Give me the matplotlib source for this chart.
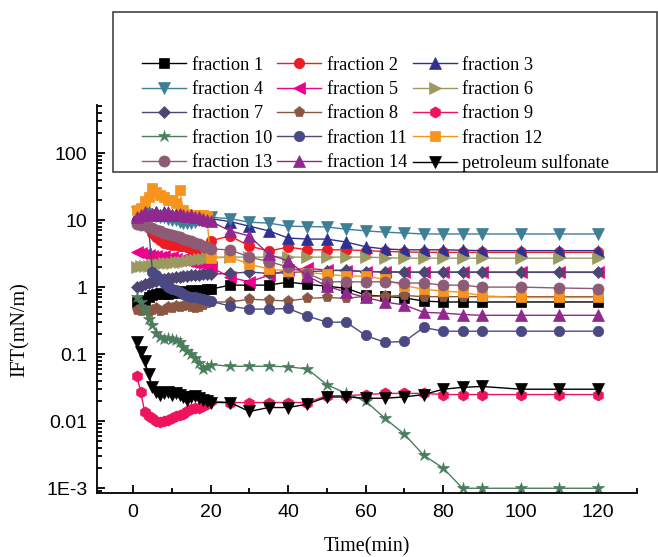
import matplotlib
matplotlib.use("Agg")
import matplotlib.pyplot as plt
from matplotlib.patches import Rectangle
from matplotlib.ticker import FixedLocator, LogLocator, FuncFormatter, MultipleLocator, NullFormatter

# time points (min): dense sampling for the first 20 min, then every 5-10 min
t_early = list(range(1, 21))
t_late = [25, 30, 35, 40, 45, 50, 55, 60, 65, 70, 75, 80, 85, 90, 100, 110, 120]
time = t_early + t_late
time_f11 = list(range(4, 21)) + t_late

# IFT values (mN/m)
f1 = [0.6, 0.62, 0.65, 0.7, 0.75, 0.8, 0.82, 0.78, 0.8, 0.85, 0.83, 0.85, 0.88, 0.86, 0.9, 0.88, 0.92, 0.9, 0.93, 0.93,
      1.07, 1.07, 1.07, 1.19, 1.1, 1.03, 0.96, 0.76, 0.73, 0.69, 0.62, 0.6, 0.6, 0.6, 0.6, 0.6, 0.6]
f2 = [10, 9.5, 8.5, 7.5, 6.5, 5.5, 5, 4.6, 4.4, 4.3, 4.2, 4.1, 4.1, 4.0, 3.7, 3.45, 3.3, 3.1, 4.0, 4.9,
      5.8, 4.1, 3.45, 3.95, 3.6, 3.6, 3.6, 3.5, 3.4, 3.35, 3.3, 3.3, 3.3, 3.3, 3.3, 3.3, 3.3]
f3 = [12, 13, 14, 13, 12.5, 13, 12, 13, 12.5, 12, 12.5, 13, 12, 11.5, 12, 11.5, 11, 11, 10.5, 10.5,
      9.5, 8.1, 6.9, 5.4, 5.2, 5.2, 4.7, 4.0, 3.7, 3.6, 3.6, 3.6, 3.55, 3.5, 3.5, 3.5, 3.5]
f4 = [13, 13, 12.5, 12, 12, 11.5, 11, 11, 10.5, 10, 10, 9.5, 9, 9, 9, 9.5, 10, 10, 10.5, 11,
      10.5, 9.3, 9.0, 8.1, 8.0, 7.9, 7.3, 6.9, 6.6, 6.4, 6.2, 6.2, 6.2, 6.2, 6.2, 6.2, 6.2]
f5 = [3.3, 3.2, 3.1, 3.0, 2.9, 2.9, 2.8, 2.9, 2.7, 2.8, 2.6, 2.5, 2.6, 2.45, 2.4, 2.3, 2.25, 2.2, 2.1, 2.0,
      1.4, 1.2, 1.5, 1.8, 1.9, 1.8, 1.75, 1.7, 1.7, 1.68, 1.68, 1.68, 1.68, 1.68, 1.68, 1.68, 1.68]
f6 = [2.0, 2.05, 2.1, 2.1, 2.15, 2.2, 2.2, 2.25, 2.3, 2.3, 2.35, 2.4, 2.4, 2.45, 2.5, 2.55, 2.6, 2.65, 2.7, 2.8,
      2.8, 2.8, 2.8, 2.8, 2.8, 2.8, 2.8, 2.8, 2.75, 2.7, 2.7, 2.7, 2.7, 2.7, 2.7, 2.7, 2.7]
f7 = [1.0, 1.05, 1.1, 1.15, 1.2, 1.25, 1.3, 1.3, 1.35, 1.35, 1.4, 1.4, 1.45, 1.45, 1.5, 1.5, 1.5, 1.55, 1.55, 1.56,
      1.6, 1.68, 1.6, 1.65, 1.7, 1.75, 1.8, 1.7, 1.68, 1.66, 1.66, 1.66, 1.66, 1.66, 1.66, 1.66, 1.66]
f8 = [0.45, 0.44, 0.46, 0.42, 0.45, 0.48, 0.44, 0.46, 0.5, 0.48, 0.52, 0.5, 0.52, 0.55, 0.5, 0.48, 0.5, 0.55, 0.58, 0.6,
      0.6, 0.66, 0.64, 0.62, 0.68, 0.7, 0.68, 0.73, 0.73, 0.75, 0.72, 0.72, 0.72, 0.72, 0.72, 0.72, 0.72]
f9 = [0.047, 0.027, 0.0137, 0.012, 0.011, 0.0101, 0.0098, 0.0101, 0.0105, 0.011, 0.012, 0.0125, 0.013, 0.014,
      0.015, 0.016, 0.016, 0.017, 0.018, 0.02,
      0.019, 0.019, 0.019, 0.019, 0.019, 0.024, 0.024, 0.025, 0.026, 0.026, 0.026, 0.025, 0.025, 0.025, 0.025,
      0.025, 0.025]
f10 = [0.71, 0.6, 0.45, 0.33, 0.27, 0.21, 0.18, 0.17, 0.175, 0.17, 0.16, 0.15, 0.13, 0.11, 0.1, 0.087, 0.075,
       0.06, 0.065, 0.07,
       0.066, 0.066, 0.066, 0.065, 0.06, 0.035, 0.026, 0.02, 0.011, 0.0064, 0.0031, 0.002, 0.001, 0.001, 0.001,
       0.001, 0.001]
f11 = [8, 1.7, 1.5, 1.3, 1.15, 1.0, 0.95, 0.9, 0.84, 0.78, 0.73, 0.72, 0.7, 0.68, 0.66, 0.64, 0.62,
       0.52, 0.47, 0.47, 0.48, 0.37, 0.3, 0.3, 0.19, 0.15, 0.155, 0.25, 0.22, 0.22, 0.22, 0.22, 0.22, 0.22]
f12 = [14, 15, 19, 22, 30, 26, 24, 22, 20, 20, 18, 28, 14, 12.5, 12, 12, 12, 12, 11.5, 2.7,
       2.8, 2.2, 1.86, 1.75, 1.65, 1.56, 1.46, 1.46, 1.3, 1.05, 0.93, 0.87, 0.84, 0.74, 0.7, 0.7, 0.7]
f13 = [8.7, 8.5, 8.3, 8, 7.6, 7.2, 6.8, 6.5, 6.3, 6, 5.8, 5.5, 5.3, 5.1, 4.9, 4.6, 4.4, 4.1, 3.9, 3.7,
       3.6, 2.8, 2.4, 2.0, 1.6, 1.2, 1.2, 1.2, 1.2, 1.15, 1.15, 1.07, 1.07, 1.0, 1.0, 0.97, 0.95]
f14 = [11, 12, 13, 12, 12.5, 13, 12, 12.5, 13, 12, 12, 12.5, 12, 11.5, 12, 11, 11, 10.5, 10, 9.6,
       6.9, 5.8, 3.1, 2.45, 1.46, 1.03, 0.84, 0.7, 0.6, 0.54, 0.42, 0.41, 0.39, 0.38, 0.38, 0.38, 0.38]
ps = [0.15, 0.107, 0.079, 0.05, 0.032, 0.027, 0.025, 0.026, 0.027, 0.025, 0.026, 0.025, 0.023, 0.021, 0.023,
      0.024, 0.022, 0.021, 0.02, 0.019,
      0.019, 0.014, 0.016, 0.016, 0.018, 0.023, 0.023, 0.022, 0.022, 0.023, 0.025, 0.03, 0.032, 0.033, 0.03,
      0.03, 0.03]

series = [
    ("fraction 1", time, f1, "s", "#000000", 6.5),
    ("fraction 2", time, f2, "o", "#ed1c24", 7.5),
    ("fraction 3", time, f3, "^", "#2e3192", 8),
    ("fraction 4", time, f4, "v", "#3f7f95", 8),
    ("fraction 5", time, f5, "<", "#ec008c", 8),
    ("fraction 6", time, f6, ">", "#9a9a60", 8),
    ("fraction 7", time, f7, "D", "#4d4673", 6.5),
    ("fraction 8", time, f8, "p", "#8b5742", 8),
    ("fraction 9", time, f9, "h", "#ed145b", 8),
    ("fraction 10", time, f10, "*", "#4a7d5c", 9),
    ("fraction 11", time_f11, f11, "o", "#4b4983", 7.5),
    ("fraction 12", time, f12, "s", "#f7941d", 7),
    ("fraction 13", time, f13, "o", "#8e5b76", 8),
    ("fraction 14", time, f14, "^", "#92278f", 8),
    ("petroleum sulfonate", time, ps, "v", "#000000", 8),
]

serif = "Liberation Serif"
sans = "Liberation Sans"

fig = plt.figure(figsize=(6.58, 5.57), dpi=100)
ax = fig.add_axes([0.1474, 0.1149, 0.8207, 0.6966])

handles = []
for label, t, v, marker, color, ms in series:
    h, = ax.plot(t, v, marker=marker, color=color, markersize=ms, linewidth=1.0,
                 markeredgewidth=0.5, label=label)
    handles.append(h)

ax.set_yscale("log")
ax.set_xlim(-9.3, 130)
ax.set_ylim(8.5e-4, 520)

# ticks: inward, only left and bottom spines
ax.spines["top"].set_visible(False)
ax.spines["right"].set_visible(False)
ax.spines["left"].set_linewidth(1.3)
ax.spines["bottom"].set_linewidth(1.3)

ax.xaxis.set_major_locator(FixedLocator([0, 20, 40, 60, 80, 100, 120]))
ax.xaxis.set_minor_locator(MultipleLocator(10))
ax.yaxis.set_major_locator(FixedLocator([1e-3, 1e-2, 1e-1, 1, 10, 100]))
ax.yaxis.set_minor_locator(LogLocator(base=10, subs=range(2, 10), numticks=20))
ax.yaxis.set_minor_formatter(NullFormatter())

ylabels = {1e-3: "1E-3", 1e-2: "0.01", 1e-1: "0.1", 1: "1", 10: "10", 100: "100"}
ax.yaxis.set_major_formatter(FuncFormatter(
    lambda v, pos: min(ylabels.items(), key=lambda kv: abs(kv[0] / v - 1))[1]))

ax.tick_params(which="both", direction="in", width=1.3)
ax.tick_params(axis="x", which="major", pad=8)
ax.tick_params(which="major", length=6, labelsize=14)
ax.tick_params(axis="y", which="major", pad=7)
ax.tick_params(which="minor", length=3.5)
for lbl in ax.get_xticklabels() + ax.get_yticklabels():
    lbl.set_fontfamily(sans)

ax.set_xlabel("Time(min)", fontsize=14.5, fontfamily=serif)
ax.set_ylabel("IFT(mN/m)", fontsize=14.5, fontfamily=serif)
ax.xaxis.set_label_coords(0.5, -0.114)
ax.yaxis.set_label_coords(-0.124, 0.42)

# legend box (Origin-style, with empty band at the top)
fig.patches.append(Rectangle((113 / 658, (557 - 172) / 557), (657 - 113) / 658, 160 / 557,
                             transform=fig.transFigure, facecolor="white", edgecolor="#444444",
                             linewidth=1.2, zorder=5))

# reorder so that ncol=3 (column-wise fill) reads row by row
order = []
for c in range(3):
    for r in range(5):
        order.append(handles[r * 3 + c])
leg = fig.legend(handles=order, labels=[h.get_label() for h in order], ncol=3,
                 loc="lower left", bbox_to_anchor=(142 / 658, (557 - 172) / 557),
                 frameon=False, prop={"family": serif, "size": 13.2},
                 handlelength=2.4, handletextpad=0.3, columnspacing=0.3,
                 labelspacing=0.4, borderpad=0, borderaxespad=0)
leg.set_zorder(6)

plt.savefig("out.png", dpi=100)
plt.close(fig)
